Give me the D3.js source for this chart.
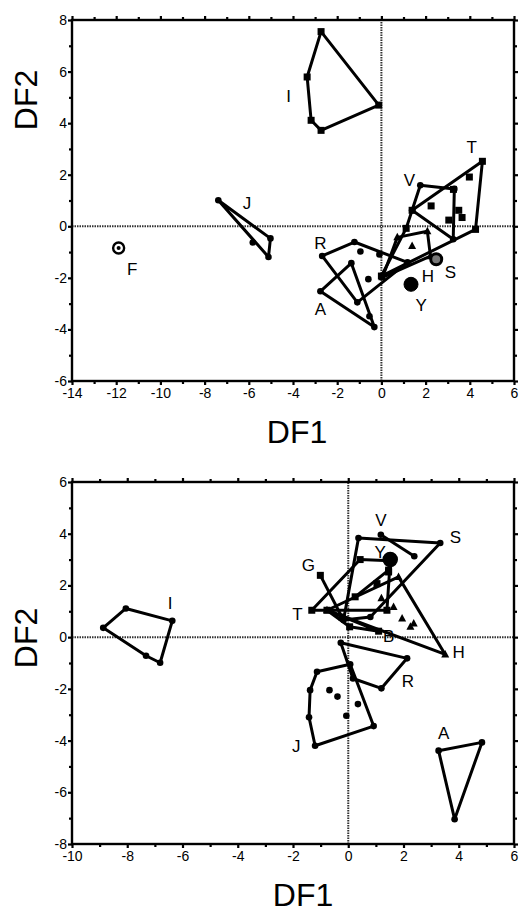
<!DOCTYPE html>
<html>
<head>
<meta charset="utf-8">
<script src="https://cdn.jsdelivr.net/npm/d3@7"></script>
<style>
  body { margin: 0; background: #fff; }
  svg { display: block; }
  text { font-family: "Liberation Sans", Arial, sans-serif; }
</style>
</head>
<body>
<div id="chart"></div>
<script>
// top panel groups (DF1, DF2)
const topI = [[-2.73, 7.55], [-0.12, 4.70], [-2.73, 3.72], [-3.18, 4.11], [-3.36, 5.79]];
const topJ = [[-7.38, 1.01], [-5.02, -0.47], [-5.11, -1.19]];
const topJin = [[-5.82, -0.63]];
const topR = [[-2.68, -1.15], [-1.22, -0.61], [1.18, -1.40], [-1.09, -2.95]];
const topRin = [[-0.95, -0.98], [-0.59, -2.05], [-0.09, -1.09]];
const topA = [[-2.76, -2.52], [-1.36, -1.43], [-0.32, -3.91]];
const topAin = [[-0.54, -3.49]];
const topH = [[0.72, -0.43], [2.08, -0.19], [2.22, -1.16], [0.05, -1.98]];
const topHin = [[1.39, -0.76]];
const topV = [[1.39, 0.62], [1.76, 1.59], [3.30, 1.45], [3.25, -0.50]];
const topT = [[1.39, 0.62], [4.57, 2.52], [4.26, -0.12], [0.0, -1.93], [1.12, -0.08]];
const topTin = [[3.98, 1.91], [2.25, 0.79], [3.50, 0.62], [3.65, 0.34], [3.05, 0.24], [3.26, 1.43]];
const topF = [-11.89, -0.84];
const topS = [2.48, -1.28];
const topY = [1.34, -2.25];
const topLabels = [
  ["I", -4.2, 5.05], ["J", -6.08, 0.9], ["F", -11.28, -1.67], ["R", -2.76, -0.67],
  ["A", -2.76, -3.22], ["H", 2.1, -1.93], ["S", 3.12, -1.8], ["Y", 1.8, -3.09],
  ["V", 1.27, 1.76], ["T", 4.09, 3.05]
];

// bottom panel groups
const botI = [[-8.05, 1.11], [-6.37, 0.63], [-6.81, -0.99], [-7.32, -0.72], [-8.87, 0.36]];
const botA = [[3.27, -4.39], [4.84, -4.07], [3.85, -7.04]];
const botJ = [[-1.13, -1.34], [0.07, -1.05], [0.92, -3.44], [-1.2, -4.2], [-1.42, -3.1], [-1.38, -2.05]];
const botJin = [[-0.68, -2.05], [-0.39, -2.3], [0.35, -2.59], [-0.07, -3.04]];
const botR = [[-0.27, -0.22], [2.13, -0.82], [1.2, -1.98], [0.17, -1.6]];
const botH = [[-0.77, 1.04], [1.82, 2.33], [3.51, -0.67]];
const botHin = [[1.64, 1.17], [1.95, 0.72], [2.37, 0.53], [2.25, 0.4], [1.2, 1.5]];
const botS = [[0.37, 3.83], [3.33, 3.64], [0.8, 0.78], [-0.17, 0.66]];
const botV = [[1.18, 3.96], [2.39, 3.13]];
const botT = [[-1.32, 1.04], [0.43, 3.0], [1.52, 2.95], [1.4, 1.04]];
const botTin = [[1.46, 2.52], [1.04, 2.07]];
const botG = [[-1.01, 2.39], [-0.23, 0.78]];
const botB = [[-0.77, 1.04], [0.05, 0.4], [1.1, 0.23]];
const botX = [[0.25, 1.56], [1.46, 2.59]];
const botY = [1.52, 3.0];
const botLabels = [
  ["I", -6.45, 1.3], ["A", 3.45, -3.72], ["J", -1.88, -4.21], ["R", 2.16, -1.7],
  ["H", 4.0, -0.6], ["S", 3.88, 3.87], ["V", 1.18, 4.5], ["Y", 1.16, 3.29],
  ["G", -1.44, 2.78], ["T", -1.84, 0.89], ["B", 1.46, 0.01]
];

const W = 520, H = 912;
const svg = d3.select("#chart").append("svg").attr("width", W).attr("height", H);

function drawPanel(cfg) {
  const x = d3.scaleLinear().domain(cfg.xDomain).range([72, 514]);
  const y = d3.scaleLinear().domain(cfg.yDomain).range(cfg.yRange);
  const g = svg.append("g");
  const fmt = d => String(d);
  const [x0, x1] = cfg.xDomain, [y0, y1] = cfg.yDomain;
  const xMaj = d3.range(x0, x1 + 1, 2), xMin = d3.range(x0 + 1, x1, 2);
  const yMaj = d3.range(y0, y1 + 1, 2), yMin = d3.range(y0 + 1, y1, 2);

  // zero lines
  g.append("line").attr("x1", x(x0)).attr("x2", x(x1)).attr("y1", y(0)).attr("y2", y(0))
    .attr("stroke", "#333").attr("stroke-width", 2).attr("stroke-dasharray", "1.5,1");
  g.append("line").attr("x1", x(0)).attr("x2", x(0)).attr("y1", y(y0)).attr("y2", y(y1))
    .attr("stroke", "#333").attr("stroke-width", 2).attr("stroke-dasharray", "1.5,1");

  const b = cfg.yRange[0], t = cfg.yRange[1];
  const axes = [
    [d3.axisBottom(x).tickValues(xMaj).tickFormat(fmt).tickSize(4), `translate(0,${b})`],
    [d3.axisBottom(x).tickValues(xMin).tickFormat("").tickSize(3), `translate(0,${b})`],
    [d3.axisTop(x).tickValues(xMaj).tickFormat("").tickSize(4), `translate(0,${t})`],
    [d3.axisTop(x).tickValues(xMin).tickFormat("").tickSize(3), `translate(0,${t})`],
    [d3.axisLeft(y).tickValues(yMaj).tickFormat(fmt).tickSize(4).tickPadding(1), `translate(72,0)`],
    [d3.axisLeft(y).tickValues(yMin).tickFormat("").tickSize(3), `translate(72,0)`],
    [d3.axisRight(y).tickValues(yMaj).tickFormat("").tickSize(4), `translate(514,0)`],
    [d3.axisRight(y).tickValues(yMin).tickFormat("").tickSize(3), `translate(514,0)`]
  ];
  axes.forEach(([ax, tr]) => {
    const a = g.append("g").attr("transform", tr).call(ax);
    a.select(".domain").remove();
    a.selectAll("line").attr("stroke", "#000").attr("stroke-width", 2.2);
    a.selectAll("text").attr("font-size", 14).attr("fill", "#000");
  });
  g.append("rect").attr("x", 72).attr("y", t).attr("width", 442).attr("height", b - t)
    .attr("fill", "none").attr("stroke", "#000").attr("stroke-width", 2.4);

  const line = d3.line().x(d => x(d[0])).y(d => y(d[1]));
  cfg.polys.forEach(p => {
    g.append("path").attr("d", line(p.pts) + (p.open ? "" : "Z"))
      .attr("fill", "none").attr("stroke", "#000").attr("stroke-width", 3)
      .attr("stroke-linejoin", "round");
    drawMarks(g, x, y, p.pts, p.mark);
    if (p.inner) drawMarks(g, x, y, p.inner, p.mark);
  });
  (cfg.rings || []).forEach(r => {
    g.append("circle").attr("cx", x(r.p[0])).attr("cy", y(r.p[1])).attr("r", r.r)
      .attr("fill", r.fill).attr("stroke", "#000").attr("stroke-width", r.sw);
    if (r.dot) g.append("circle").attr("cx", x(r.p[0])).attr("cy", y(r.p[1])).attr("r", r.dot).attr("fill", "#000");
  });
  g.selectAll("text.lab").data(cfg.labels).join("text").attr("class", "lab")
    .attr("x", d => x(d[1])).attr("y", d => y(d[2]))
    .attr("text-anchor", "middle").attr("dominant-baseline", "central")
    .attr("font-size", 17).text(d => d[0]);

  svg.append("text").attr("x", cfg.xt[0]).attr("y", cfg.xt[1]).attr("text-anchor", "middle")
    .attr("font-size", 32).text("DF1");
  svg.append("text").attr("transform", `translate(${cfg.yt[0]},${cfg.yt[1]}) rotate(-90)`)
    .attr("text-anchor", "middle").attr("dominant-baseline", "central")
    .attr("font-size", 32).text("DF2");
}

function drawMarks(g, x, y, pts, mark) {
  pts.forEach(d => {
    const cx = x(d[0]), cy = y(d[1]);
    if (mark === "sq") {
      g.append("rect").attr("x", cx - 3.5).attr("y", cy - 3.5).attr("width", 7).attr("height", 7).attr("fill", "#000");
    } else if (mark === "tri") {
      g.append("path").attr("d", `M${cx},${cy - 4.5}L${cx + 4},${cy + 3}L${cx - 4},${cy + 3}Z`).attr("fill", "#000");
    } else {
      g.append("circle").attr("cx", cx).attr("cy", cy).attr("r", 3.3).attr("fill", "#000");
    }
  });
}

drawPanel({
  xDomain: [-14, 6], yDomain: [-6, 8], yRange: [381, 20],
  polys: [
    { pts: topI, mark: "sq" },
    { pts: topJ, inner: topJin, mark: "dot" },
    { pts: topR, inner: topRin, mark: "dot" },
    { pts: topA, inner: topAin, mark: "dot" },
    { pts: topH, inner: topHin, mark: "tri" },
    { pts: topV, mark: "dot" },
    { pts: topT, inner: topTin, mark: "sq" }
  ],
  rings: [
    { p: topF, r: 5.5, fill: "#fff", sw: 2.4, dot: 2 },
    { p: topS, r: 5.5, fill: "#777", sw: 3 },
    { p: topY, r: 7, fill: "#000", sw: 1 }
  ],
  labels: topLabels, xt: [297, 443], yt: [26, 100]
});

drawPanel({
  xDomain: [-10, 6], yDomain: [-8, 6], yRange: [844, 482],
  polys: [
    { pts: botI, mark: "dot" },
    { pts: botA, mark: "dot" },
    { pts: botJ, inner: botJin, mark: "dot" },
    { pts: botR, mark: "dot" },
    { pts: botH, inner: botHin, mark: "tri" },
    { pts: botS, mark: "dot" },
    { pts: botV, mark: "dot", open: true },
    { pts: botT, inner: botTin, mark: "sq" },
    { pts: botG, mark: "sq", open: true },
    { pts: botB, mark: "sq" },
    { pts: botX, mark: "sq", open: true }
  ],
  rings: [
    { p: botY, r: 7, fill: "#000", sw: 1.5 }
  ],
  labels: botLabels, xt: [303, 906], yt: [26, 638]
});
</script>
</body>
</html>
